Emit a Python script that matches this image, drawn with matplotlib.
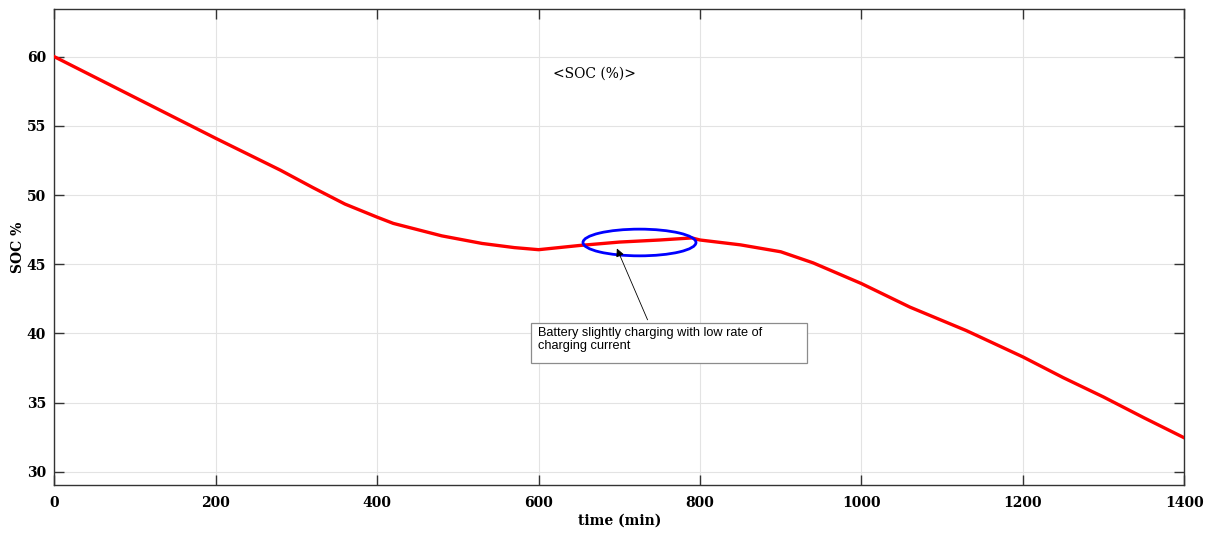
import numpy as np
import matplotlib.pyplot as plt
from matplotlib.patches import Ellipse, Rectangle

# --- data ---
time_min = [0, 100, 200, 280, 320, 360, 400, 420, 480, 530, 570, 600,
            650, 700, 750, 790, 800, 850, 900, 940, 1000, 1060, 1130,
            1200, 1250, 1300, 1350, 1400]
soc_pct = [60.0, 57.05, 54.1, 51.8, 50.55, 49.35, 48.4, 47.95, 47.05, 46.5,
           46.2, 46.05, 46.35, 46.6, 46.75, 46.9, 46.75, 46.4, 45.9, 45.1,
           43.6, 41.9, 40.2, 38.3, 36.8, 35.4, 33.9, 32.45]

x_ticks = [0, 200, 400, 600, 800, 1000, 1200, 1400]
y_ticks = [30, 35, 40, 45, 50, 55, 60]

note_text = "Battery slightly charging with low rate of\ncharging current"
title_text = "<SOC (%)>"


def main():
    plt.rcParams.update({
        'font.family': 'DejaVu Serif',
        'axes.linewidth': 1.0,
        'axes.edgecolor': '#333333',
    })

    fig = plt.figure(figsize=(12.05, 5.35), dpi=100)
    ax = fig.add_axes([0.0451, 0.0940, 0.9377, 0.8892])

    ax.plot(time_min, soc_pct, color='red', linewidth=2.4, zorder=3)

    ax.set_xlim(0, 1400)
    ax.set_ylim(29.06, 63.45)
    ax.set_xticks(x_ticks)
    ax.set_yticks(y_ticks)
    ax.tick_params(direction='in', length=7, width=1.0, color='#333333',
                   top=True, right=True, labelsize=10)
    ax.tick_params(axis='x', pad=8)
    ax.tick_params(axis='y', pad=6)
    for lbl in ax.get_xticklabels() + ax.get_yticklabels():
        lbl.set_fontweight('bold')
    ax.grid(True, color='#e3e3e3', linewidth=0.8)
    ax.set_axisbelow(True)

    ax.set_xlabel('time (min)', fontsize=10, fontweight='bold', labelpad=3)
    ax.set_ylabel('SOC %', fontsize=10, fontweight='bold', labelpad=1)

    ax.text(0.4776, 0.8634, title_text, transform=ax.transAxes,
            fontsize=10, ha='center', va='center')

    # highlighted region
    ell = Ellipse((725, 46.57), width=140, height=1.93, fill=False,
                  edgecolor='blue', linewidth=2.0, zorder=4)
    ax.add_patch(ell)

    # annotation box with arrow
    box = Rectangle((0.4219, 0.2552), 0.2442, 0.0853, transform=ax.transAxes,
                    facecolor='white', edgecolor='#8c8c8c', linewidth=0.9,
                    zorder=5)
    ax.add_patch(box)
    ax.text(0.4278, 0.3325, note_text, transform=ax.transAxes,
            fontsize=9.2, family='Liberation Sans', ha='left', va='top',
            linespacing=1.15, zorder=6)
    ax.annotate('', xy=(697, 46.14), xytext=(735, 40.98),
                arrowprops=dict(arrowstyle='-|>', color='black', lw=0.6,
                                mutation_scale=12, shrinkA=0, shrinkB=0),
                zorder=6)

    fig.savefig('out.png', dpi=100)


if __name__ == "__main__":
    main()
